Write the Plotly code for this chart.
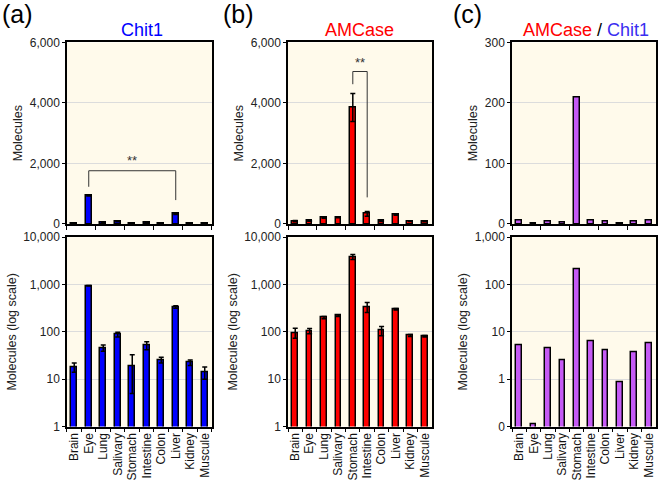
import plotly.graph_objects as go

tissues = ["Brain", "Eye", "Lung", "Salivary", "Stomach", "Intestine",
           "Colon", "Liver", "Kidney", "Muscule"]

chit1_mean = [18, 940, 46, 88, 19, 52, 25.5, 335, 22.5, 14]
chit1_sd = [4, 15, 7, 10, 14, 10, 3.5, 20, 3, 4]

amcase_mean = [96, 104, 200, 220, 3850, 335, 106, 300, 84, 81]
amcase_sd = [23, 13, 10, 10, 460, 80, 23, 12, 4, 3]

ratio = [5.35, 0.112, 4.5, 2.5, 209, 6.5, 4.2, 0.87, 3.7, 5.7]

lin_ticks = [0, 2000, 4000, 6000]
lin_text = ["0", "2,000", "4,000", "6,000"]
log_ticks = [1, 10, 100, 1000, 10000]
log_text = ["1", "10", "100", "1,000", "10,000"]
ratio_lin_ticks = [0, 100, 200, 300]
ratio_log_ticks = [0.1, 1, 10, 100, 1000]
ratio_log_text = ["0", "1", "10", "100", "1,000"]

BLUE = "#0000FF"
RED = "#FF0000"
PURPLE = "#C55AF5"
BG = "#FFFAEB"
FONT = "Liberation Sans, Arial, sans-serif"

fig = go.Figure()


def add_bars(xa, ya, y, color, sd=None):
    err = None
    if sd is not None:
        err = dict(type="data", array=sd, visible=True, color="black",
                   thickness=1.5, width=2.5)
    fig.add_trace(go.Bar(x=tissues, y=y, xaxis=xa, yaxis=ya, width=0.4,
                         marker=dict(color=color, line=dict(color="black", width=1.5)),
                         error_y=err, showlegend=False))


add_bars("x", "y", chit1_mean, BLUE, chit1_sd)
add_bars("x2", "y2", chit1_mean, BLUE, chit1_sd)
add_bars("x3", "y3", amcase_mean, RED, amcase_sd)
add_bars("x4", "y4", amcase_mean, RED, amcase_sd)
add_bars("x5", "y5", ratio, PURPLE)
add_bars("x6", "y6", ratio, PURPLE)

xdoms = [[0.1015, 0.3212], [0.4364, 0.6545], [0.7758, 0.9939]]
ytop = [0.541, 0.913]
ybot = [0.126, 0.514]

common_x = dict(type="category", categoryorder="array", categoryarray=tissues,
                showline=True, linecolor="black", linewidth=1.5, mirror=True,
                ticks="outside", tickson="boundaries", ticklen=4, tickcolor="black",
                tickwidth=1, showgrid=False, zeroline=False, automargin=False,
                tickfont=dict(size=12, color="#111", family=FONT))
common_y = dict(showline=True, linecolor="black", linewidth=1.5, mirror=True,
                ticks="outside", ticklen=3, tickcolor="black", automargin=False,
                showgrid=True, gridcolor="#DCDCDC", gridwidth=1, zeroline=False,
                tickfont=dict(size=12, color="#222", family=FONT),
                title_font=dict(size=12.5, color="#222", family=FONT),
                title_standoff=4)

layout = dict(width=660, height=488, margin=dict(l=0, r=0, t=0, b=0),
              paper_bgcolor="white", plot_bgcolor=BG, bargap=0,
              font=dict(family=FONT))

for i in range(3):
    top_x = "xaxis" if i == 0 else "xaxis%d" % (2 * i + 1)
    top_y = "yaxis" if i == 0 else "yaxis%d" % (2 * i + 1)
    bot_x = "xaxis%d" % (2 * i + 2)
    bot_y = "yaxis%d" % (2 * i + 2)
    layout[top_x] = dict(common_x, domain=xdoms[i], anchor="y" if i == 0 else "y%d" % (2 * i + 1),
                         showticklabels=False)
    layout[bot_x] = dict(common_x, domain=xdoms[i], anchor="y%d" % (2 * i + 2),
                         tickangle=-90)
    layout[top_y] = dict(common_y, domain=ytop, anchor="x" if i == 0 else "x%d" % (2 * i + 1),
                         title_text="Molecules")
    layout[bot_y] = dict(common_y, domain=ybot, anchor="x%d" % (2 * i + 2),
                         title_text="Molecules (log scale)")

layout["yaxis"].update(range=[0, 6000], tickvals=lin_ticks, ticktext=lin_text)
layout["yaxis3"].update(range=[0, 6000], tickvals=lin_ticks, ticktext=lin_text)
layout["yaxis5"].update(range=[0, 300], tickvals=ratio_lin_ticks)
layout["yaxis2"].update(type="log", range=[0, 4], tickvals=log_ticks, ticktext=log_text)
layout["yaxis4"].update(type="log", range=[0, 4], tickvals=log_ticks, ticktext=log_text)
layout["yaxis6"].update(type="log", range=[-1, 3], tickvals=ratio_log_ticks,
                        ticktext=ratio_log_text)

fig.update_layout(**layout)

# significance brackets
eye, liver = tissues.index("Eye"), tissues.index("Liver")
stom, intes = tissues.index("Stomach"), tissues.index("Intestine")
bracket = dict(type="path", line=dict(color="#333", width=1))
fig.add_shape(bracket, xref="x", yref="y",
              path="M %d,1230 L %d,1760 L %d,1760 L %d,790" % (eye, eye, liver, liver))
fig.add_shape(bracket, xref="x3", yref="y3",
              path="M %d,4620 L %d,5040 L %d,5040 L %d,880" % (stom, stom, intes, intes))
fig.add_annotation(x=(eye + liver) / 2, y=1800, xref="x", yref="y", text="**",
                   showarrow=False, yanchor="bottom", font=dict(size=13, color="#333"))
fig.add_annotation(x=(stom + intes) / 2, y=5040, xref="x3", yref="y3", text="**",
                   showarrow=False, yanchor="bottom", font=dict(size=13, color="#333"))

# panel letters and titles
for letter, xp in [("(a)", 0.0), ("(b)", 0.335), ("(c)", 0.684)]:
    fig.add_annotation(x=xp, y=1.005, xref="paper", yref="paper", text=letter,
                       showarrow=False, xanchor="left", yanchor="top",
                       font=dict(size=25, color="black"))
fig.add_annotation(x=0.215, y=0.938, xref="paper", yref="paper", text="Chit1",
                   showarrow=False, xanchor="center", yanchor="middle",
                   font=dict(size=18, color=BLUE))
fig.add_annotation(x=0.545, y=0.938, xref="paper", yref="paper", text="AMCase",
                   showarrow=False, xanchor="center", yanchor="middle",
                   font=dict(size=18, color=RED))
fig.add_annotation(x=0.888, y=0.938, xref="paper", yref="paper",
                   text="<span style='color:#FF0000'>AMCase</span> / "
                        "<span style='color:#3A2EF0'>Chit1</span>",
                   showarrow=False, xanchor="center", yanchor="middle",
                   font=dict(size=18, color="black"))

# the page body has a default margin; drop it so the figure sits at the corner
fig.write_html("out.html", config={"displayModeBar": False},
               post_script="document.body.style.margin='0';")
